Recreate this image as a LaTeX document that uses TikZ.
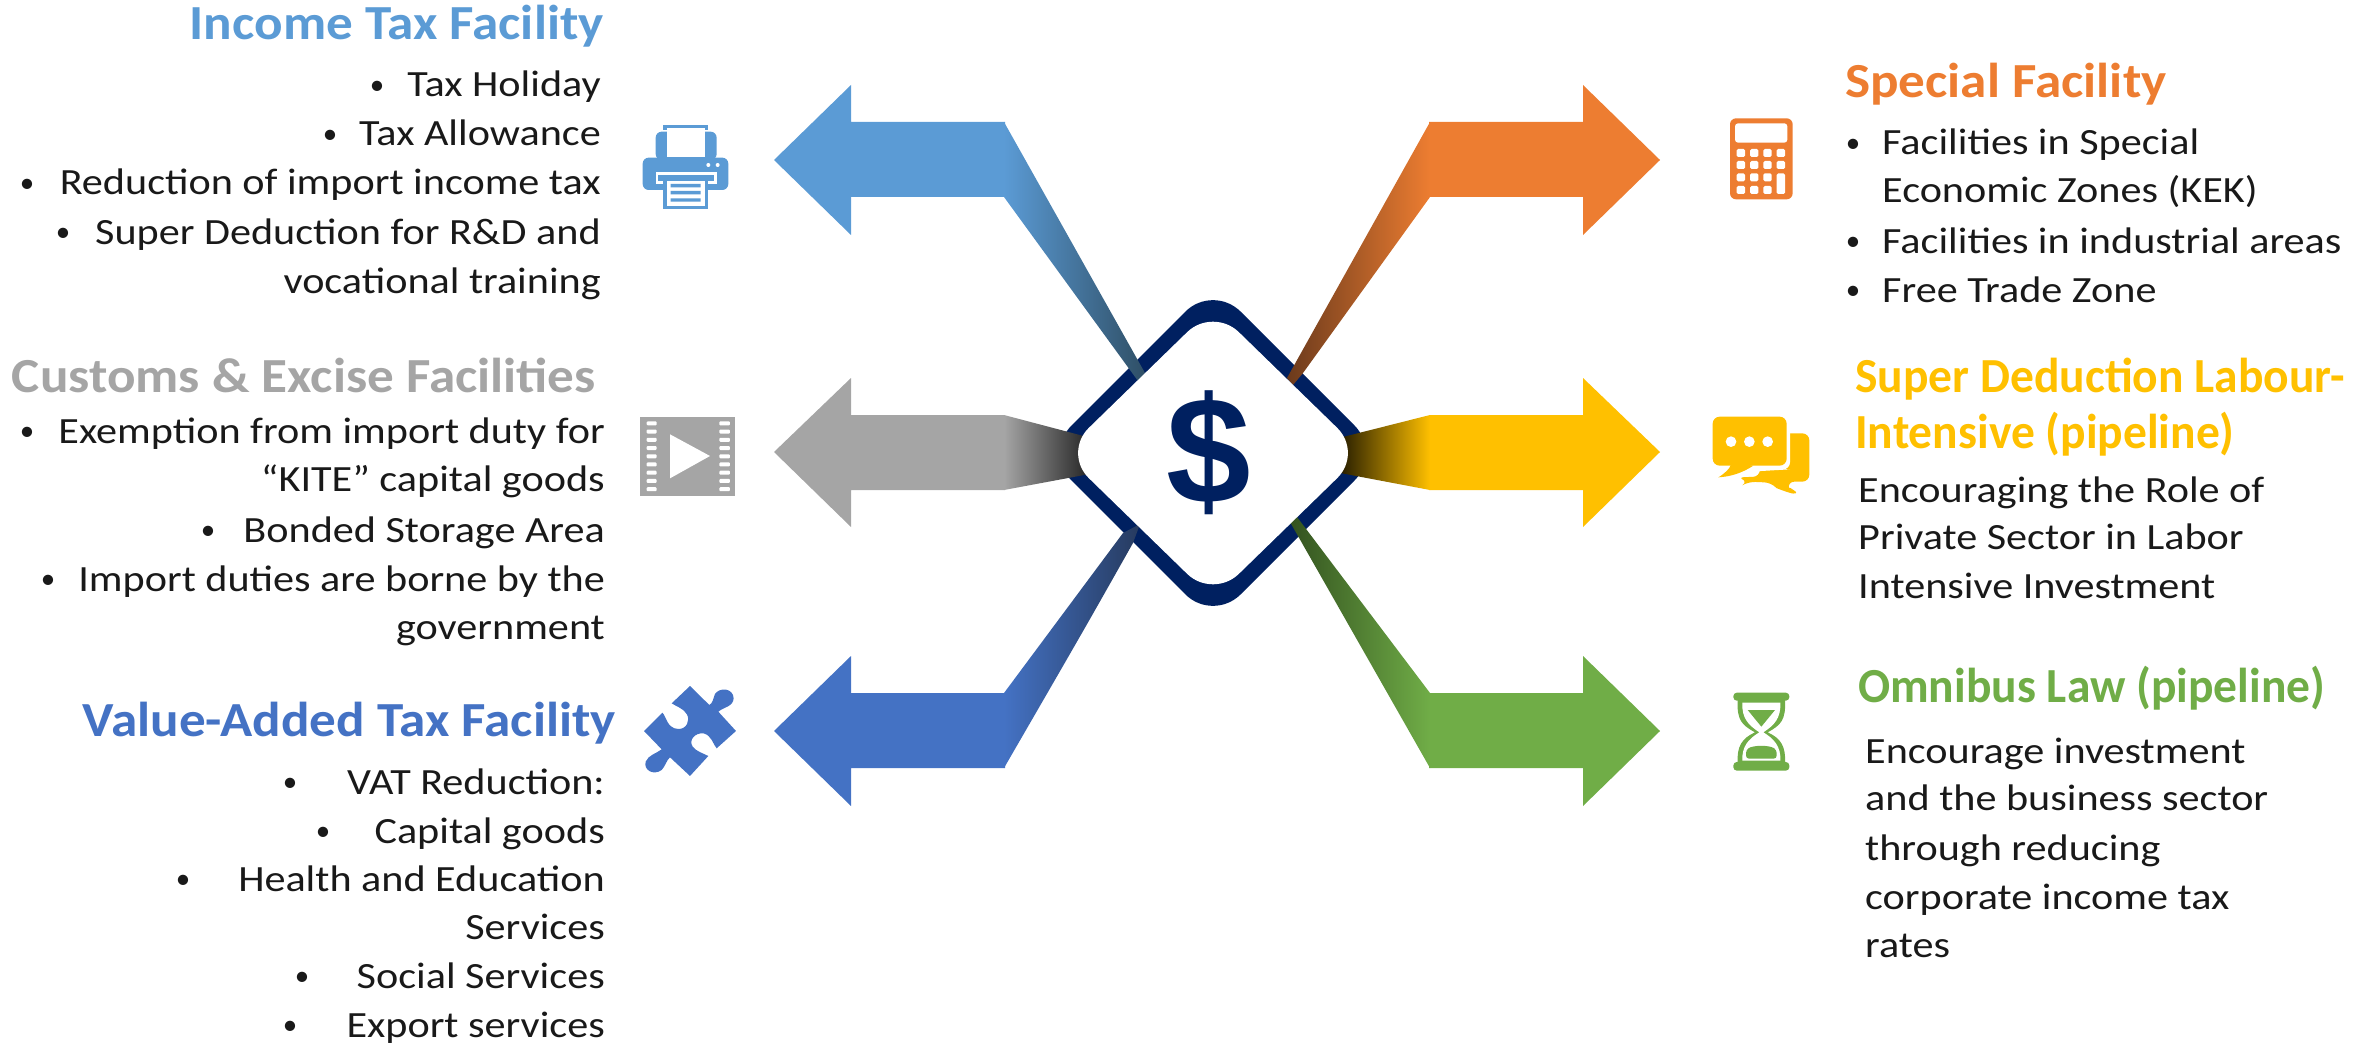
\documentclass[tikz,border=0pt]{standalone}
\usepackage{fontspec}
\setmainfont{Carlito}
\newfontfamily\bodyfont[FakeStretch=1.14]{Carlito}
\newfontfamily\titlefont[FakeStretch=1.085]{Carlito}
\newfontfamily\titlenarrow[FakeStretch=0.97]{Carlito}
\newfontfamily\dollarfont{Liberation Sans}
\definecolor{cBlueL}{HTML}{5B9BD5}
\definecolor{cBlueLd}{HTML}{2F4F66}
\definecolor{cGray}{HTML}{A5A5A5}
\definecolor{cGrayd}{HTML}{1C1C1C}
\definecolor{cBlue}{HTML}{4472C4}
\definecolor{cBlued}{HTML}{263A5E}
\definecolor{cOrange}{HTML}{ED7D31}
\definecolor{cOranged}{HTML}{6B3A1C}
\definecolor{cGold}{HTML}{FFC000}
\definecolor{cGoldd}{HTML}{1A1400}
\definecolor{cGreen}{HTML}{70AD47}
\definecolor{cGreend}{HTML}{33521F}
\definecolor{cNavy}{HTML}{002060}
\tikzset{
  bodyleft/.style={anchor=base east,inner sep=0pt,font=\bodyfont\fontsize{37}{37}\selectfont,text=black!90},
  bodyright/.style={anchor=base west,inner sep=0pt,font=\bodyfont\fontsize{37}{37}\selectfont,text=black!90},
  bul/.style={anchor=base,inner sep=0pt,yshift=2.5pt,font=\fontsize{29}{29}\selectfont,text=black!90},
  titleleft/.style={anchor=base east,inner sep=0pt,font=\titlefont\fontsize{49}{49}\selectfont\bfseries},
  titleright/.style={anchor=base west,inner sep=0pt,font=\titlefont\fontsize{49}{49}\selectfont\bfseries},
  titlethin/.style={anchor=base west,inner sep=0pt,font=\titlenarrow\fontsize{49}{49}\selectfont\bfseries},
  icon/.style={shift={(#1)},x=0.3333pt,y=-0.3333pt},
}
\newcommand{\diamondpath}[2]{(1213,453-#2) -- (1213+#1,453) -- (1213,453+#2) -- (1213-#1,453) -- cycle}
\begin{document}
\begin{tikzpicture}[x=1pt,y=-1pt]
\useasboundingbox (0,0) rectangle (2374,1043);
% diamond border
\fill[cNavy,rounded corners=39pt] \diamondpath{169}{169};
% arrows: left
\fill[cBlueL] (774,160) -- (851,85) -- (851,122) -- (1005,122) -- (1005,197) -- (851,197) -- (851,235) -- cycle;
\shade[left color=cBlueL,middle color=cBlueL!92!black,right color=cBlueLd] (1004,122) -- (1145,373) -- (1138,381) -- (1004,197) -- cycle;
\fill[cGray] (774,452) -- (851,378) -- (851,415) -- (1005,415) -- (1005,490) -- (851,490) -- (851,527) -- cycle;
\shade[left color=cGray,right color=cGrayd] (1004,415) -- (1095,439) -- (1095,473) -- (1004,490) -- cycle;
\fill[cBlue] (774,731) -- (851,656) -- (851,693) -- (1005,693) -- (1005,768) -- (851,768) -- (851,806) -- cycle;
\shade[left color=cBlue,middle color=cBlue!92!black,right color=cBlued] (1004,693) -- (1123,533) -- (1140,524) -- (1133,543) .. controls (1085,628) .. (1004,768) -- cycle;
% arrows: right
\fill[cOrange] (1660,160) -- (1583,85) -- (1583,122) -- (1429,122) -- (1429,197) -- (1583,197) -- (1583,235) -- cycle;
\shade[right color=cOrange,middle color=cOrange!90!black,left color=cOranged] (1430,122) -- (1287,378) -- (1293,385) -- (1303,373) -- (1430,197) -- cycle;
\fill[cGold] (1660,452) -- (1583,378) -- (1583,415) -- (1429,415) -- (1429,490) -- (1583,490) -- (1583,527) -- cycle;
\shade[right color=cGold,left color=cGoldd] (1430,415) -- (1335,439) -- (1335,472) -- (1430,490) -- cycle;
\fill[cGreen] (1660,731) -- (1583,656) -- (1583,693) -- (1429,693) -- (1429,768) -- (1583,768) -- (1583,806) -- cycle;
\shade[right color=cGreen,middle color=cGreen!90!black,left color=cGreend] (1430,693) -- (1297,517) -- (1290,522) -- (1430,768) -- cycle;
% diamond interior
\fill[white,rounded corners=36pt] \diamondpath{150}{146};
\node[inner sep=0pt,text=cNavy,font=\dollarfont\bfseries\fontsize{152}{152}\selectfont] (dollar) at (1209,452.5) {\$};
% printer
\begin{scope}[icon={620,110}]
\fill[cBlueL,rounded corners=6pt] (107,65) -- (107,150) -- (290,150) -- (290,65) -- cycle;
\fill[cBlueL] (130,45) rectangle (265,60);
\fill[white] (141,55) rectangle (254,140);
\fill[cBlueL,rounded corners=6pt] (68,143) rectangle (325,240);
\fill[white] (265,165) circle (6) (293,165) circle (6);
\fill[white] (107,186) rectangle (290,222);
\fill[cBlueL] (115,194) rectangle (282,214);
\fill[cBlueL] (130,205) rectangle (265,298);
\fill[white] (141,212) rectangle (254,288);
\fill[cBlueL] (152,222) rectangle (242,232) (152,243) rectangle (242,253) (152,265) rectangle (242,275);
\end{scope}
% film
\begin{scope}[icon={620,400}]
\fill[cGray] (60,52) rectangle (345,287);
\foreach \k in {0,...,8}{
  \fill[white,rounded corners=1pt] (80,64+\k*24.7) rectangle (110,76+\k*24.7);
  \fill[white,rounded corners=1pt] (298,64+\k*24.7) rectangle (330,76+\k*24.7);
}
\fill[white] (150,103) -- (270,168) -- (150,235) -- cycle;
\end{scope}
% puzzle
\begin{scope}[icon={620,670}]
\fill[cBlue] (155,100) -- (210,48) -- (268,105) .. controls (278,100) and (280,85) .. (285,72) .. controls (300,50) and (340,55) .. (341,85) .. controls (340,110) and (310,112) .. (295,125) -- (348,183) -- (290,235)
 .. controls (280,225) and (275,195) .. (250,190) .. controls (225,188) and (205,210) .. (218,230) .. controls (230,245) and (250,250) .. (265,258)
 -- (210,318) -- (150,262) .. controls (140,270) and (135,290) .. (125,300) .. controls (100,318) and (70,300) .. (77,275) .. controls (85,255) and (110,250) .. (125,238)
 -- (72,183) -- (127,128) .. controls (140,140) and (140,175) .. (175,177) .. controls (200,178) and (212,150) .. (200,132) .. controls (190,115) and (170,110) .. (155,100) -- cycle;
\end{scope}
% calculator
\begin{scope}[icon={1700,100}]
\fill[cOrange,rounded corners=6pt] (90,55) rectangle (278,298);
\fill[white,rounded corners=3pt] (105,70) rectangle (262,128);
\foreach \c in {110,150,190}{\foreach \r in {147,183,220,258}{
  \fill[white,rounded corners=1.5pt] (\c,\r) rectangle (\c+25,\r+24);
}}
\foreach \r in {147,183}{\fill[white,rounded corners=1.5pt] (230,\r) rectangle (255,\r+24);}
\fill[white,rounded corners=1.5pt] (230,220) rectangle (255,282);
\end{scope}
% chat
\begin{scope}[icon={1700,400}]
\fill[cGold,rounded corners=7pt] (112,232) .. controls (130,240) and (140,248) .. (145,245) -- (215,248) .. controls (230,265) and (270,280) .. (300,282) .. controls (280,270) and (265,258) .. (262,245) -- (328,245) -- (328,100) -- (180,100) -- (180,230) -- cycle;
\fill[white,rounded corners=7pt] (160,40) rectangle (270,208);
\fill[white] (160,205) -- (270,208) -- (150,215) -- (100,235) -- cycle;
\fill[cGold,rounded corners=7pt] (38,50) rectangle (260,197);
\fill[cGold] (60,190) -- (108,190) -- (160,197) .. controls (125,220) and (90,230) .. (55,232) .. controls (75,220) and (90,205) .. (92,195) -- cycle;
\fill[white] (93,125) circle (16) (148,125) circle (16) (203,125) circle (16);
\end{scope}
% hourglass
\begin{scope}[icon={1700,670}]
\fill[cGreen,rounded corners=3.5pt] (100,68) rectangle (268,92);
\fill[cGreen,rounded corners=3.5pt] (100,276) rectangle (268,302);
\fill[cGreen] (113,90) .. controls (110,150) and (125,165) .. (165,187) .. controls (125,205) and (110,230) .. (113,280) -- (255,280) .. controls (258,230) and (243,205) .. (203,187) .. controls (243,165) and (258,150) .. (255,90) -- cycle;
\fill[white] (127,98) .. controls (125,145) and (145,165) .. (178,187) .. controls (145,207) and (125,230) .. (127,272) -- (241,272) .. controls (243,230) and (223,207) .. (190,187) .. controls (223,165) and (243,145) .. (241,98) -- cycle;
\fill[cGreen] (143,120) -- (225,120) -- (184,170) -- cycle;
\fill[cGreen,rounded corners=3pt] (138,266) -- (138,240) .. controls (160,225) and (208,225) .. (230,240) -- (230,266) -- cycle;
\end{scope}
% Income Tax
\node[titleleft,text=cBlueL] (t1) at (604,40) {Income Tax Facility};
\node[bodyleft] (a1) at (601,97) {Tax Holiday};
\node[bul] (ab1) at (377,97) {•};
\node[bodyleft] (a2) at (601,146) {Tax Allowance};
\node[bul] (ab2) at (330,146) {•};
\node[bodyleft] (a3) at (601,195) {Reduction of import income tax};
\node[bul] (ab3) at (27,195) {•};
\node[bodyleft] (a4) at (601,244) {Super Deduction for R\&D and};
\node[bul] (ab4) at (63,244) {•};
\node[bodyleft] (a5) at (601,293) {vocational training};
% Customs
\node[titleleft,text=cGray] (t2) at (596,392) {Customs \& Excise Facilities};
\node[bodyleft] (b1) at (605,443) {Exemption from import duty for};
\node[bul] (bb1) at (27,443) {•};
\node[bodyleft] (b2) at (605,491) {“KITE” capital goods};
\node[bodyleft] (b3) at (605,542) {Bonded Storage Area};
\node[bul] (bb3) at (208,542) {•};
\node[bodyleft] (b4) at (605,591) {Import duties are borne by the};
\node[bul] (bb4) at (48,591) {•};
\node[bodyleft] (b5) at (605,639) {government};
% VAT
\node[titleleft,text=cBlue] (t3) at (616,736) {Value-Added Tax Facility};
\node[bodyleft] (c1) at (605,794) {VAT Reduction:};
\node[bul] (cb1) at (290,794) {•};
\node[bodyleft] (c2) at (605,843) {Capital goods};
\node[bul] (cb2) at (323,843) {•};
\node[bodyleft] (c3) at (605,891) {Health and Education};
\node[bul] (cb3) at (183,891) {•};
\node[bodyleft] (c4) at (605,939) {Services};
\node[bodyleft] (c5) at (605,988) {Social Services};
\node[bul] (cb5) at (302,988) {•};
\node[bodyleft] (c6) at (605,1037) {Export services};
\node[bul] (cb6) at (290,1037) {•};
% Special
\node[titleright,text=cOrange] (t4) at (1845,98) {Special Facility};
\node[bodyright] (d1) at (1882,155) {Facilities in Special};
\node[bul] (db1) at (1853,155) {•};
\node[bodyright] (d2) at (1882,203) {Economic Zones (KEK)};
\node[bodyright] (d3) at (1882,253) {Facilities in industrial areas};
\node[bul] (db3) at (1853,253) {•};
\node[bodyright] (d4) at (1882,302) {Free Trade Zone};
\node[bul] (db4) at (1853,302) {•};
% Super Deduction
\node[titlethin,text=cGold] (t5) at (1855,392) {Super Deduction Labour-};
\node[titlethin,text=cGold] (t5b) at (1855,448) {Intensive (pipeline)};
\node[bodyright] (e1) at (1858,502) {Encouraging the Role of};
\node[bodyright] (e2) at (1858,549) {Private Sector in Labor};
\node[bodyright] (e3) at (1858,598) {Intensive Investment};
% Omnibus
\node[titlethin,text=cGreen] (t6) at (1858,702) {Omnibus Law (pipeline)};
\node[bodyright] (f1) at (1865,763) {Encourage investment};
\node[bodyright] (f2) at (1865,810) {and the business sector};
\node[bodyright] (f3) at (1865,860) {through reducing};
\node[bodyright] (f4) at (1865,909) {corporate income tax};
\node[bodyright] (f5) at (1865,957) {rates};
\end{tikzpicture}
\end{document}
